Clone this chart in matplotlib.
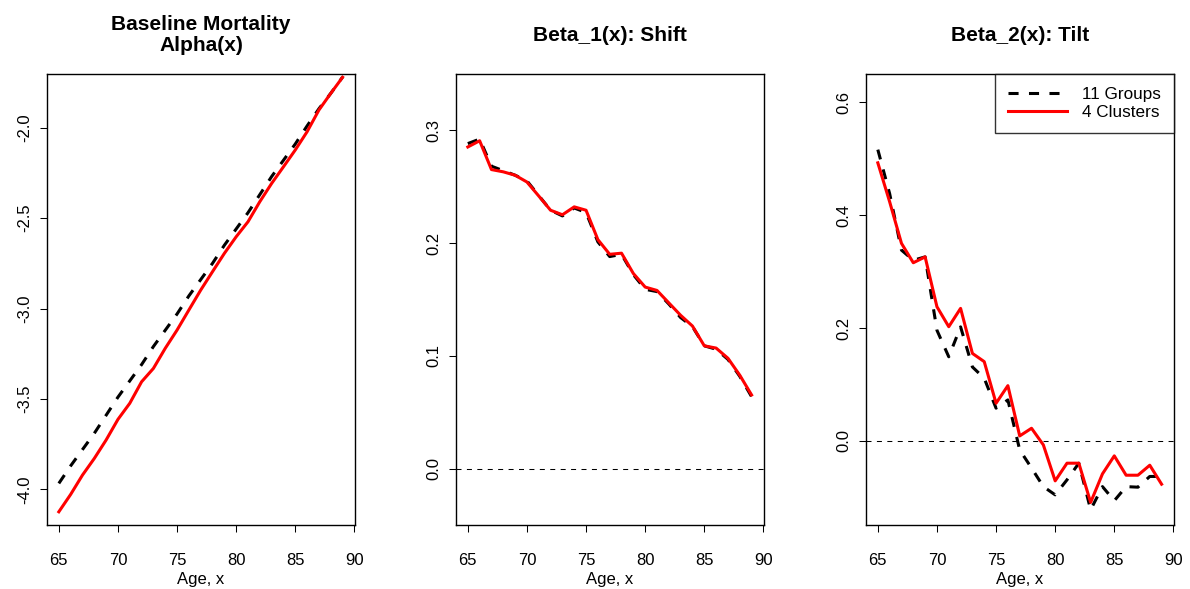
import matplotlib
matplotlib.use("Agg")
import matplotlib.pyplot as plt

plt.rcParams['font.family'] = ['Liberation Sans', 'DejaVu Sans']

# ages on the x axis
ages = list(range(65, 90))

# Alpha(x): baseline mortality
alpha_groups = [-3.967, -3.87, -3.78, -3.69, -3.59, -3.49, -3.40, -3.31, -3.21, -3.12,
                -3.03, -2.93, -2.84, -2.75, -2.65, -2.56, -2.47, -2.37, -2.27, -2.18,
                -2.09, -1.99, -1.895, -1.81, -1.72]
alpha_clusters = [-4.124, -4.028, -3.921, -3.829, -3.727, -3.613, -3.524, -3.405, -3.331, -3.220,
                  -3.119, -3.008, -2.898, -2.796, -2.695, -2.603, -2.520, -2.409, -2.308, -2.216,
                  -2.123, -2.022, -1.902, -1.810, -1.721]

# Beta_1(x): shift
beta1_groups = [0.288, 0.292, 0.268, 0.264, 0.260, 0.255, 0.242, 0.229, 0.224, 0.231,
                0.227, 0.201, 0.188, 0.190, 0.172, 0.159, 0.157, 0.146, 0.134, 0.126,
                0.109, 0.106, 0.097, 0.082, 0.064]
beta1_clusters = [0.285, 0.2905, 0.265, 0.263, 0.260, 0.254, 0.2416, 0.229, 0.225, 0.232,
                  0.229, 0.203, 0.190, 0.191, 0.173, 0.161, 0.158, 0.147, 0.136, 0.1265,
                  0.109, 0.107, 0.098, 0.083, 0.0655]

# Beta_2(x): tilt
beta2_groups = [0.516, 0.438, 0.338, 0.320, 0.326, 0.196, 0.149, 0.202, 0.131, 0.111,
                0.058, 0.0726, -0.016, -0.048, -0.081, -0.0956, -0.069, -0.0395, -0.122, -0.081,
                -0.106, -0.081, -0.082, -0.063, -0.063]
beta2_clusters = [0.4926, 0.4236, 0.350, 0.3156, 0.326, 0.2377, 0.2023, 0.2348, 0.155, 0.1404,
                  0.0667, 0.0979, 0.0088, 0.0224, -0.0071, -0.0708, -0.0395, -0.0395, -0.109, -0.0584,
                  -0.0265, -0.0608, -0.0608, -0.0431, -0.0767]

titles = ["Baseline Mortality\nAlpha(x)", "Beta_1(x): Shift", "Beta_2(x): Tilt"]
x_ticks = [65, 70, 75, 80, 85, 90]
y_ticks = [[-4.0, -3.5, -3.0, -2.5, -2.0], [0.0, 0.1, 0.2, 0.3], [0.0, 0.2, 0.4, 0.6]]
y_limits = [(-4.197, -1.703), (-0.0496, 0.3496), (-0.149, 0.650)]
series = [(alpha_groups, alpha_clusters), (beta1_groups, beta1_clusters), (beta2_groups, beta2_clusters)]

W, H = 1190, 589
fig = plt.figure(figsize=(W / 100, H / 100), dpi=100)
lefts = [47, 456, 866]

for i in range(3):
    ax = fig.add_axes([lefts[i] / W, 1 - 525 / H, 308 / W, 451 / H])
    grp, clu = series[i]
    if i > 0:
        ax.axhline(0, color='black', lw=0.75, ls=(0, (4.8, 5.2)))
    ax.plot(ages, grp, color='black', lw=2.2, ls=(0, (3.3, 3.4)), label='11 Groups')
    ax.plot(ages, clu, color='red', lw=2.2, label='4 Clusters')
    ax.set_xlim(64.0, 90.05)
    ax.set_ylim(*y_limits[i])
    ax.set_xticks(x_ticks)
    ax.set_yticks(y_ticks[i])
    ax.set_yticklabels(['%.1f' % v for v in y_ticks[i]], rotation=90, va='center')
    ax.tick_params(direction='out', length=5, width=0.75, labelsize=12, pad=15)
    ax.tick_params(axis='y', pad=5.5)
    for s in ax.spines.values():
        s.set_linewidth(1.0)
    ax.set_xlabel('Age, x', fontsize=12, labelpad=3)
    ax.text(0.5, 1.086, titles[i], transform=ax.transAxes, ha='center', va='center',
            fontsize=15, fontweight='bold', linespacing=1.1)
    if i == 2:
        leg = ax.legend(loc='upper right', borderaxespad=0, fancybox=False, fontsize=12.3,
                        handlelength=3.45, handletextpad=0.9, borderpad=0.75, labelspacing=0.2)
        leg.get_frame().set_edgecolor('black')
        leg.get_frame().set_linewidth(1.0)

fig.savefig('out.png', dpi=100)
